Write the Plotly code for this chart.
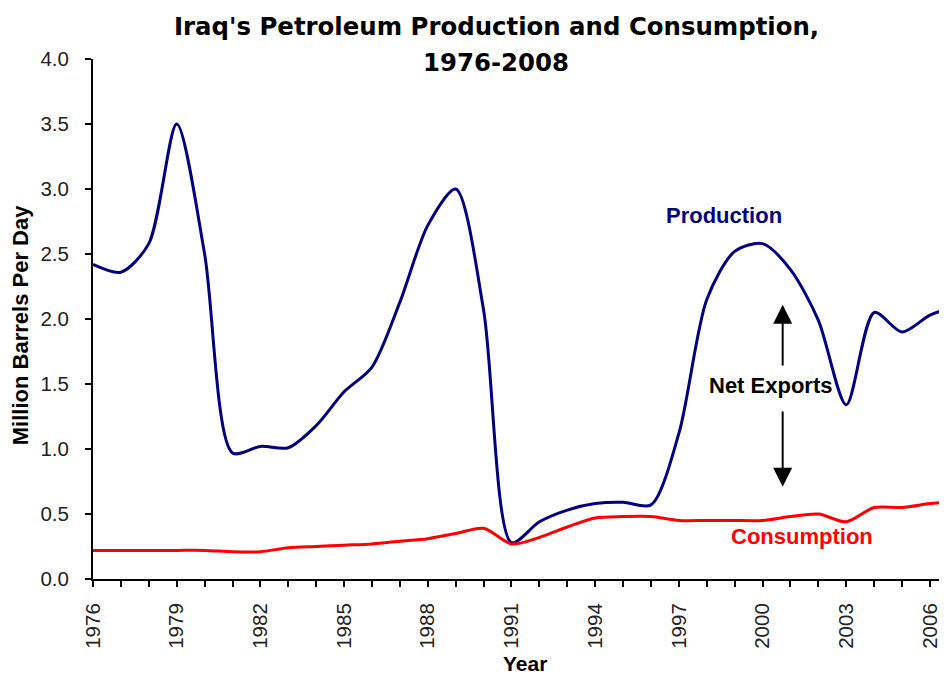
import plotly.graph_objects as go

years = list(range(1976, 2008))
production = [2.42, 2.36, 2.58, 3.50, 2.50, 0.97, 1.02, 1.01, 1.18, 1.44, 1.63, 2.13,
              2.72, 3.00, 2.07, 0.28, 0.44, 0.53, 0.58, 0.59, 0.57, 1.12, 2.15, 2.52,
              2.58, 2.38, 1.99, 1.34, 2.05, 1.90, 2.03, 2.10]
consumption = [0.22, 0.22, 0.22, 0.22, 0.22, 0.21, 0.21, 0.24, 0.25, 0.26, 0.27, 0.29,
               0.31, 0.35, 0.39, 0.27, 0.32, 0.40, 0.47, 0.48, 0.48, 0.45, 0.45, 0.45,
               0.45, 0.48, 0.50, 0.44, 0.55, 0.55, 0.58, 0.60]
x_ticks = list(range(1976, 2007, 3))
x_tick_labels = [str(y) for y in x_ticks]
y_ticks = [0.0, 0.5, 1.0, 1.5, 2.0, 2.5, 3.0, 3.5, 4.0]
y_tick_labels = ["%.1f" % v for v in y_ticks]

fig = go.Figure()
fig.add_trace(go.Scatter(x=years, y=production, mode="lines", name="Production",
                         line=dict(color="#000080", width=3, shape="spline", smoothing=0.8)))
fig.add_trace(go.Scatter(x=years, y=consumption, mode="lines", name="Consumption",
                         line=dict(color="#FF0000", width=3, shape="spline", smoothing=0.8)))

bold_font = "Liberation Sans"
title_font = dict(family="DejaVu Sans", size=24.4, color="black")
fig.add_annotation(xref="paper", yref="paper", x=0.472, y=1.062, xanchor="center", yanchor="middle",
                   text="<b>Iraq's Petroleum Production and Consumption,</b>",
                   showarrow=False, font=title_font)
fig.add_annotation(xref="paper", yref="paper", x=0.472, y=0.994, xanchor="center", yanchor="middle",
                   text="<b>1976-2008</b>", showarrow=False, font=title_font)
fig.add_annotation(xref="paper", yref="paper", x=-0.0855, y=0.488, xanchor="center", yanchor="middle",
                   textangle=-90, text="<b>Million Barrels Per Day</b>", showarrow=False,
                   font=dict(family=bold_font, size=22, color="black"))
fig.add_annotation(xref="paper", yref="paper", x=0.506, y=-0.1625, xanchor="center", yanchor="middle",
                   text="<b>Year</b>", showarrow=False,
                   font=dict(family=bold_font, size=21, color="black"))

fig.add_annotation(x=1998.6, y=2.80, text="<b>Production</b>", showarrow=False,
                   font=dict(family=bold_font, size=22, color="#000080"))
fig.add_annotation(x=2001.4, y=0.33, text="<b>Consumption</b>", showarrow=False,
                   font=dict(family=bold_font, size=22, color="#FF0000"))
fig.add_annotation(x=2000.3, y=1.49, text="<b>Net Exports</b>", showarrow=False,
                   font=dict(family=bold_font, size=22, color="#000000"))
# arrows
fig.add_annotation(x=2000.72, y=2.11, ax=2000.72, ay=1.63, xref="x", yref="y", axref="x", ayref="y",
                   text="", showarrow=True, arrowhead=2, arrowsize=1.9, arrowwidth=2, arrowcolor="black")
fig.add_annotation(x=2000.72, y=0.71, ax=2000.72, ay=1.30, xref="x", yref="y", axref="x", ayref="y",
                   text="", showarrow=True, arrowhead=2, arrowsize=1.9, arrowwidth=2, arrowcolor="black")

# page body has an 8px margin: size the figure so the plot area lands where the reference has it
fig.update_layout(
    width=939, height=669,
    margin=dict(l=85, r=0, t=51, b=98),
    paper_bgcolor="white", plot_bgcolor="white",
    showlegend=False,
    font=dict(family="Liberation Sans", color="black"),
)
fig.update_xaxes(range=[1976, 2006.61], tickvals=x_ticks, ticktext=x_tick_labels, tickangle=-90,
                 ticks="outside", ticklen=6, tickwidth=2, tickcolor="black", showline=True, linecolor="black",
                 linewidth=2, showgrid=False, zeroline=False, automargin=False, ticklabelstandoff=8,
                 tickfont=dict(family="Liberation Sans", size=20.5, color="#222"),
                 minor=dict(dtick=1, tick0=1976, ticks="outside", ticklen=6, tickwidth=2, tickcolor="black"))
fig.update_yaxes(range=[0, 4.0], tickvals=y_ticks, ticktext=y_tick_labels,
                 ticks="outside", ticklen=6, tickwidth=2, tickcolor="black", showline=True, linecolor="black",
                 linewidth=2, showgrid=False, zeroline=False, automargin=False, ticklabelstandoff=12,
                 tickfont=dict(family="Liberation Sans", size=20.5, color="#222"))
fig.write_html("out.html")
